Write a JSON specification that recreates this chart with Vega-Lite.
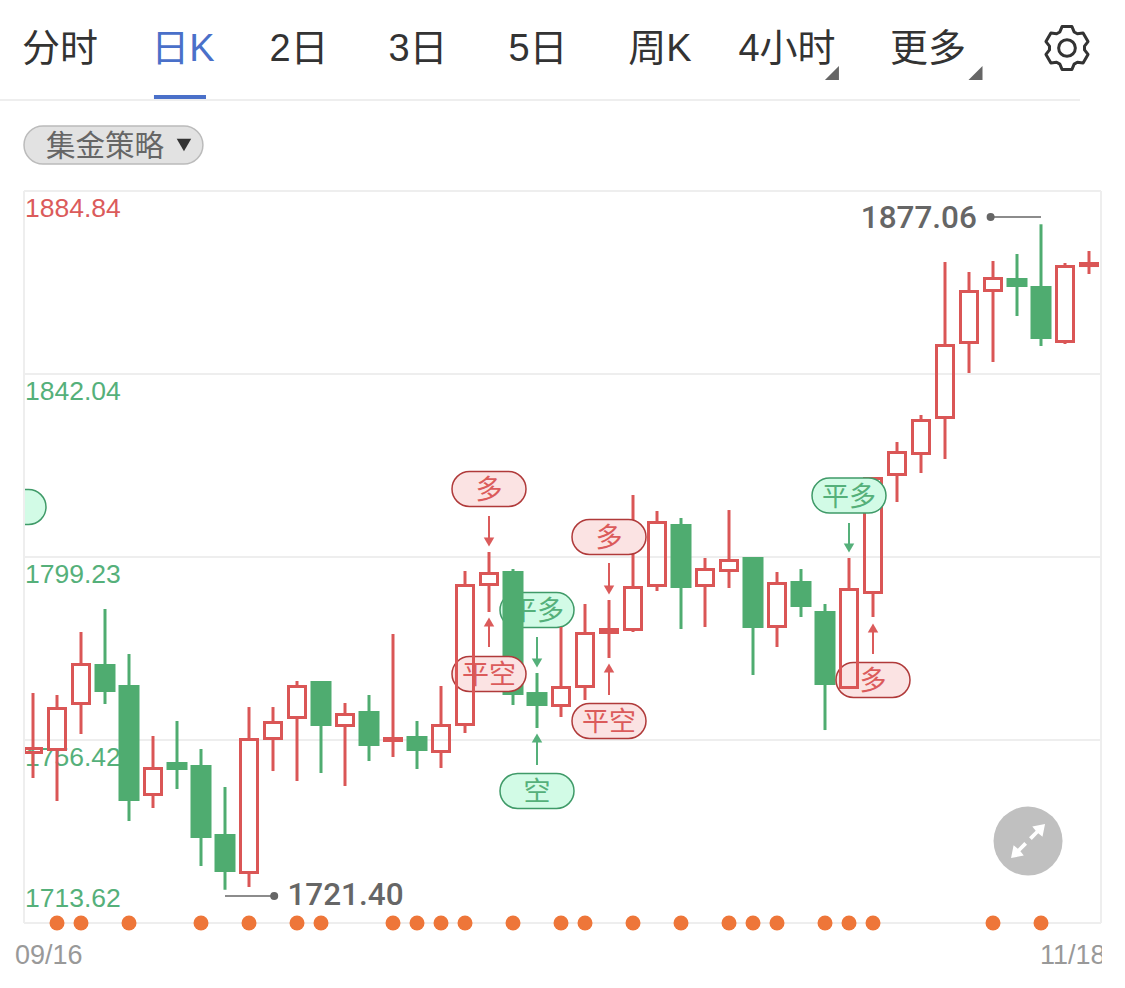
{
  "$schema": "https://vega.github.io/schema/vega-lite/v6.json",
  "description": "Gold daily K-line chart with trade signals, 09/16 to 11/18",
  "width": 1125,
  "height": 988,
  "padding": 0,
  "autosize": {"type": "none"},
  "background": "white",
  "datasets": {
    "candles": [
      {"i":0,"open":1753.50,"close":1754.44,"high":1767.42,"low":1747.54},
      {"i":1,"open":1754.20,"close":1763.79,"high":1766.95,"low":1742.16},
      {"i":2,"open":1764.96,"close":1774.09,"high":1781.69,"low":1757.83},
      {"i":3,"open":1774.20,"close":1767.65,"high":1787.07,"low":1764.85},
      {"i":4,"open":1769.29,"close":1742.16,"high":1776.54,"low":1737.48},
      {"i":5,"open":1743.68,"close":1749.76,"high":1757.36,"low":1740.52},
      {"i":6,"open":1751.28,"close":1749.41,"high":1760.87,"low":1744.96},
      {"i":7,"open":1750.58,"close":1733.50,"high":1754.32,"low":1726.95},
      {"i":8,"open":1734.44,"close":1725.55,"high":1745.43,"low":1721.40},
      {"i":9,"open":1725.43,"close":1756.54,"high":1764.14,"low":1722.04},
      {"i":10,"open":1756.78,"close":1760.52,"high":1764.14,"low":1749.17},
      {"i":11,"open":1761.69,"close":1768.94,"high":1770.23,"low":1746.84},
      {"i":12,"open":1770.23,"close":1759.70,"high":1770.23,"low":1748.71},
      {"i":13,"open":1759.82,"close":1762.39,"high":1765.08,"low":1745.67},
      {"i":14,"open":1763.21,"close":1755.02,"high":1766.95,"low":1751.51},
      {"i":15,"open":1756.31,"close":1756.78,"high":1781.22,"low":1752.45},
      {"i":16,"open":1757.36,"close":1753.85,"high":1760.87,"low":1749.64},
      {"i":17,"open":1753.73,"close":1759.82,"high":1769.06,"low":1749.88},
      {"i":18,"open":1760.05,"close":1792.57,"high":1795.96,"low":1758.06},
      {"i":19,"open":1792.80,"close":1795.37,"high":1800.40,"low":1786.37},
      {"i":20,"open":1795.96,"close":1766.95,"high":1796.42,"low":1764.61},
      {"i":21,"open":1767.65,"close":1764.38,"high":1772.10,"low":1759.23},
      {"i":22,"open":1764.49,"close":1768.71,"high":1782.86,"low":1761.81},
      {"i":23,"open":1768.94,"close":1781.34,"high":1788.24,"low":1765.78},
      {"i":24,"open":1781.57,"close":1782.27,"high":1789.17,"low":1775.61},
      {"i":25,"open":1782.27,"close":1792.10,"high":1813.73,"low":1781.69},
      {"i":26,"open":1792.56,"close":1807.30,"high":1809.99,"low":1791.28},
      {"i":27,"open":1806.95,"close":1791.98,"high":1808.35,"low":1782.39},
      {"i":28,"open":1792.56,"close":1796.31,"high":1799.00,"low":1782.86},
      {"i":29,"open":1796.07,"close":1798.41,"high":1810.22,"low":1791.98},
      {"i":30,"open":1799.23,"close":1782.62,"high":1799.23,"low":1771.63},
      {"i":31,"open":1782.97,"close":1793.03,"high":1795.72,"low":1778.18},
      {"i":32,"open":1793.62,"close":1787.54,"high":1796.42,"low":1785.20},
      {"i":33,"open":1786.60,"close":1769.29,"high":1788.24,"low":1758.76},
      {"i":34,"open":1768.70,"close":1791.63,"high":1799.00,"low":1768.35},
      {"i":35,"open":1790.93,"close":1817.59,"high":1817.94,"low":1785.20},
      {"i":36,"open":1818.53,"close":1823.68,"high":1826.13,"low":1812.10},
      {"i":37,"open":1823.44,"close":1831.16,"high":1832.45,"low":1818.88},
      {"i":38,"open":1831.86,"close":1848.70,"high":1868.23,"low":1822.15},
      {"i":39,"open":1849.40,"close":1861.33,"high":1865.90,"low":1842.27},
      {"i":40,"open":1861.57,"close":1864.38,"high":1868.47,"low":1844.84},
      {"i":41,"open":1864.49,"close":1862.39,"high":1870.11,"low":1855.60},
      {"i":42,"open":1862.62,"close":1850.22,"high":1877.06,"low":1848.59},
      {"i":43,"open":1849.64,"close":1867.18,"high":1868.00,"low":1849.05},
      {"i":44,"open":1867.41,"close":1867.88,"high":1870.81,"low":1865.43}
    ],
    "levels": [
      {"price":1884.84,"label":"1884.84","side":"red"},
      {"price":1842.04,"label":"1842.04","side":"green"},
      {"price":1799.23,"label":"1799.23","side":"green"},
      {"price":1756.42,"label":"1756.42","side":"green"},
      {"price":1713.62,"label":"1713.62","side":"green"}
    ],
    "signals": [
      {"i":21,"price":1786.83,"label":"平多","side":"green","tier":0},
      {"i":-1,"price":1810.93,"label":"","side":"green","tier":0},
      {"i":19,"price":1771.86,"label":"平空","side":"red","tier":1},
      {"i":35,"price":1770.46,"label":"多","side":"red","tier":1},
      {"i":19,"price":1815.14,"label":"多","side":"red","tier":2},
      {"i":21,"price":1744.50,"label":"空","side":"green","tier":2},
      {"i":24,"price":1803.91,"label":"多","side":"red","tier":2},
      {"i":24,"price":1760.87,"label":"平空","side":"red","tier":2},
      {"i":34,"price":1813.61,"label":"平多","side":"green","tier":2}
    ],
    "arrows": [
      {"i":19,"tail":1808.82,"head":1802.74,"dir":"down","side":"red"},
      {"i":19,"tail":1778.18,"head":1784.03,"dir":"up","side":"red"},
      {"i":21,"tail":1780.52,"head":1774.44,"dir":"down","side":"green"},
      {"i":21,"tail":1750.58,"head":1756.89,"dir":"up","side":"green"},
      {"i":24,"tail":1797.83,"head":1791.51,"dir":"down","side":"red"},
      {"i":24,"tail":1766.95,"head":1773.27,"dir":"up","side":"red"},
      {"i":34,"tail":1807.18,"head":1801.34,"dir":"down","side":"green"},
      {"i":35,"tail":1776.54,"head":1782.62,"dir":"up","side":"red"}
    ],
    "events": [
      {"i":1},{"i":2},{"i":4},{"i":7},{"i":9},{"i":11},{"i":12},{"i":15},
      {"i":16},{"i":17},{"i":18},{"i":20},{"i":22},{"i":23},{"i":25},{"i":27},
      {"i":29},{"i":30},{"i":31},{"i":33},{"i":34},{"i":35},{"i":40},{"i":42}
    ]
  },
  "layer": [
    {
      "data": {"values": [{}]},
      "mark": {"type": "rule", "color": "#eeeeee", "strokeWidth": 2},
      "encoding": {
        "x": {"datum": -1.375, "type": "quantitative", "scale": {"domain": [-1.375, 45.5], "nice": false, "zero": false}},
        "x2": {"datum": 43.625},
        "y": {"datum": 1906.13, "type": "quantitative", "scale": {"domain": [1698.42, 1929.52], "nice": false, "zero": false}}
      }
    },
    {
      "data": {"values": [{}]},
      "mark": {"type": "rule", "color": "#4a70c9", "strokeWidth": 4},
      "encoding": {
        "x": {"datum": 5.04, "type": "quantitative"},
        "x2": {"datum": 7.208},
        "y": {"datum": 1906.83, "type": "quantitative"}
      }
    },
    {"data": {"values": [{"label": "分时"}]}, "mark": {"type": "text", "style": "tab", "color": "#333333"}, "encoding": {"text": {"field": "label"}, "x": {"datum": 1.125, "type": "quantitative"}, "y": {"datum": 1917.8, "type": "quantitative"}}},
    {"data": {"values": [{"label": "日K"}]}, "mark": {"type": "text", "style": "tab", "color": "#4a70c9"}, "encoding": {"text": {"field": "label"}, "x": {"datum": 6.25, "type": "quantitative"}, "y": {"datum": 1917.8, "type": "quantitative"}}},
    {"data": {"values": [{"label": "2日"}]}, "mark": {"type": "text", "style": "tab", "color": "#333333"}, "encoding": {"text": {"field": "label"}, "x": {"datum": 11.083, "type": "quantitative"}, "y": {"datum": 1917.8, "type": "quantitative"}}},
    {"data": {"values": [{"label": "3日"}]}, "mark": {"type": "text", "style": "tab", "color": "#333333"}, "encoding": {"text": {"field": "label"}, "x": {"datum": 16.042, "type": "quantitative"}, "y": {"datum": 1917.8, "type": "quantitative"}}},
    {"data": {"values": [{"label": "5日"}]}, "mark": {"type": "text", "style": "tab", "color": "#333333"}, "encoding": {"text": {"field": "label"}, "x": {"datum": 21.04, "type": "quantitative"}, "y": {"datum": 1917.8, "type": "quantitative"}}},
    {"data": {"values": [{"label": "周K"}]}, "mark": {"type": "text", "style": "tab", "color": "#333333"}, "encoding": {"text": {"field": "label"}, "x": {"datum": 26.125, "type": "quantitative"}, "y": {"datum": 1917.8, "type": "quantitative"}}},
    {"data": {"values": [{"label": "4小时"}]}, "mark": {"type": "text", "style": "tab", "color": "#333333"}, "encoding": {"text": {"field": "label"}, "x": {"datum": 31.417, "type": "quantitative"}, "y": {"datum": 1917.8, "type": "quantitative"}}},
    {"data": {"values": [{"label": "更多"}]}, "mark": {"type": "text", "style": "tab", "color": "#333333"}, "encoding": {"text": {"field": "label"}, "x": {"datum": 37.29, "type": "quantitative"}, "y": {"datum": 1917.8, "type": "quantitative"}}},
    {
      "data": {"values": [{}]},
      "mark": {"type": "point", "filled": true, "fill": "#666666", "opacity": 1, "size": 196, "shape": "M1 -1 L1 1 L-1 1 Z"},
      "encoding": {"x": {"datum": 33.29, "type": "quantitative"}, "y": {"datum": 1912.44, "type": "quantitative"}}
    },
    {
      "data": {"values": [{}]},
      "mark": {"type": "point", "filled": true, "fill": "#666666", "opacity": 1, "size": 196, "shape": "M1 -1 L1 1 L-1 1 Z"},
      "encoding": {"x": {"datum": 39.27, "type": "quantitative"}, "y": {"datum": 1912.44, "type": "quantitative"}}
    },
    {
      "data": {"values": [{}]},
      "mark": {
        "type": "point", "filled": false, "stroke": "#333333", "strokeWidth": 3, "opacity": 1, "size": 1936, "strokeJoin": "round",
        "shape": "M-.325 -.731 L-.225 -.974 L.225 -.974 L.325 -.731 L.471 -.647 L.731 -.682 L.956 -.292 L.796 -.085 L.796 .085 L.956 .292 L.731 .682 L.471 .647 L.325 .731 L.225 .974 L-.225 .974 L-.325 .731 L-.471 .647 L-.731 .682 L-.956 .292 L-.796 .085 L-.796 -.085 L-.956 -.292 L-.731 -.682 L-.471 -.647 Z M.38 0 A.38 .38 0 1 0 -.38 0 A.38 .38 0 1 0 .38 0 Z"
      },
      "encoding": {"x": {"datum": 43.083, "type": "quantitative"}, "y": {"datum": 1918.29, "type": "quantitative"}}
    },
    {
      "data": {"values": [{}]},
      "mark": {"type": "rect", "fill": "#e2e2e2", "stroke": "#bbbbbb", "strokeWidth": 1.5, "cornerRadius": 19},
      "encoding": {
        "x": {"datum": -0.375, "type": "quantitative"},
        "x2": {"datum": 7.08},
        "y": {"datum": 1900.05, "type": "quantitative"},
        "y2": {"datum": 1891.16}
      }
    },
    {
      "data": {"values": [{"label": "集金策略"}]},
      "mark": {"type": "text", "fontSize": 29.5, "color": "#666666", "font": "Noto Sans CJK SC"},
      "encoding": {"text": {"field": "label"}, "x": {"datum": 3.0, "type": "quantitative"}, "y": {"datum": 1895.1, "type": "quantitative"}}
    },
    {
      "data": {"values": [{}]},
      "mark": {"type": "point", "shape": "triangle-down", "filled": true, "fill": "#333333", "opacity": 1, "size": 210},
      "encoding": {"x": {"datum": 6.29, "type": "quantitative"}, "y": {"datum": 1895.6, "type": "quantitative"}}
    },
    {
      "data": {"name": "levels"},
      "mark": {"type": "rule", "color": "#eeeeee", "strokeWidth": 2},
      "encoding": {
        "x": {"datum": -0.375, "type": "quantitative"},
        "x2": {"datum": 44.5},
        "y": {"field": "price", "type": "quantitative"}
      }
    },
    {
      "data": {"name": "levels"},
      "transform": [{"filter": "datum.price > 1720"}],
      "mark": {"type": "text", "style": "level", "dy": 18},
      "encoding": {
        "text": {"field": "label"},
        "x": {"datum": -0.375, "type": "quantitative"},
        "y": {"field": "price", "type": "quantitative"},
        "color": {"field": "side", "scale": {"domain": ["red", "green"], "range": ["#db5b5b", "#55b07a"]}}
      }
    },
    {
      "data": {"name": "levels"},
      "transform": [{"filter": "datum.price < 1720"}],
      "mark": {"type": "text", "style": "level", "dy": -24},
      "encoding": {
        "text": {"field": "label"},
        "x": {"datum": -0.375, "type": "quantitative"},
        "y": {"field": "price", "type": "quantitative"},
        "color": {"field": "side"}
      }
    },
    {
      "data": {"name": "signals"},
      "transform": [{"filter": "datum.tier == 0"}],
      "encoding": {
        "x": {"field": "i", "type": "quantitative"},
        "y": {"field": "price", "type": "quantitative"}
      },
      "layer": [
        {
          "mark": {"type": "rect", "width": 74, "height": 35, "cornerRadius": 17.5, "strokeWidth": 1.5},
          "encoding": {
            "fill": {"field": "side", "scale": {"domain": ["red", "green"], "range": ["#fbe3e3", "#d2fbe6"]}},
            "stroke": {"field": "side", "scale": {"domain": ["red", "green"], "range": ["#b03a3a", "#3f9a68"]}}
          }
        },
        {
          "mark": {"type": "text", "style": "pill"},
          "encoding": {"text": {"field": "label"}, "color": {"field": "side"}}
        }
      ]
    },
    {
      "data": {"name": "candles"},
      "transform": [{"filter": "datum.close < datum.open"}],
      "encoding": {"x": {"field": "i", "type": "quantitative"}},
      "layer": [
        {
          "mark": {"type": "rule", "color": "#4fac70", "strokeWidth": 3},
          "encoding": {"y": {"field": "low", "type": "quantitative"}, "y2": {"field": "high"}}
        },
        {
          "mark": {"type": "rect", "fill": "#4fac70", "width": 21},
          "encoding": {"y": {"field": "open", "type": "quantitative"}, "y2": {"field": "close"}}
        }
      ]
    },
    {
      "data": {"name": "signals"},
      "transform": [{"filter": "datum.tier == 1"}],
      "encoding": {
        "x": {"field": "i", "type": "quantitative"},
        "y": {"field": "price", "type": "quantitative"}
      },
      "layer": [
        {
          "mark": {"type": "rect", "width": 74, "height": 35, "cornerRadius": 17.5, "strokeWidth": 1.5},
          "encoding": {"fill": {"field": "side"}, "stroke": {"field": "side"}}
        },
        {
          "mark": {"type": "text", "style": "pill"},
          "encoding": {"text": {"field": "label"}, "color": {"field": "side"}}
        }
      ]
    },
    {
      "data": {"name": "candles"},
      "transform": [{"filter": "datum.close >= datum.open"}],
      "encoding": {"x": {"field": "i", "type": "quantitative"}},
      "layer": [
        {
          "mark": {"type": "rule", "color": "#da5656", "strokeWidth": 3},
          "encoding": {"y": {"field": "close", "type": "quantitative"}, "y2": {"field": "high"}}
        },
        {
          "mark": {"type": "rule", "color": "#da5656", "strokeWidth": 3},
          "encoding": {"y": {"field": "open", "type": "quantitative"}, "y2": {"field": "low"}}
        },
        {
          "mark": {"type": "rect", "fill": "transparent", "stroke": "#da5656", "strokeWidth": 3, "width": 17},
          "encoding": {"y": {"field": "open", "type": "quantitative"}, "y2": {"field": "close"}}
        }
      ]
    },
    {
      "data": {"name": "signals"},
      "transform": [{"filter": "datum.tier == 2"}],
      "encoding": {
        "x": {"field": "i", "type": "quantitative"},
        "y": {"field": "price", "type": "quantitative"}
      },
      "layer": [
        {
          "mark": {"type": "rect", "width": 74, "height": 35, "cornerRadius": 17.5, "strokeWidth": 1.5},
          "encoding": {"fill": {"field": "side"}, "stroke": {"field": "side"}}
        },
        {
          "mark": {"type": "text", "style": "pill"},
          "encoding": {"text": {"field": "label"}, "color": {"field": "side"}}
        }
      ]
    },
    {
      "data": {"name": "arrows"},
      "encoding": {"x": {"field": "i", "type": "quantitative"}},
      "layer": [
        {
          "mark": {"type": "rule", "strokeWidth": 2},
          "encoding": {"y": {"field": "tail", "type": "quantitative"}, "y2": {"field": "head"}, "color": {"field": "side"}}
        },
        {
          "mark": {"type": "point", "filled": true, "opacity": 1, "size": 110},
          "encoding": {
            "y": {"field": "head", "type": "quantitative"},
            "color": {"field": "side"},
            "shape": {"field": "dir", "scale": {"domain": ["down", "up"], "range": ["triangle-down", "triangle-up"]}}
          }
        }
      ]
    },
    {
      "data": {"values": [{}]},
      "mark": {"type": "rect", "fill": "white"},
      "encoding": {
        "x": {"datum": -1.375, "type": "quantitative"},
        "x2": {"datum": -0.375},
        "y": {"datum": 1820, "type": "quantitative"},
        "y2": {"datum": 1800}
      }
    },
    {
      "data": {"values": [{}]},
      "mark": {"type": "rule", "color": "#eeeeee", "strokeWidth": 2},
      "encoding": {
        "x": {"datum": -0.375, "type": "quantitative"},
        "y": {"datum": 1884.84, "type": "quantitative"},
        "y2": {"datum": 1713.62}
      }
    },
    {
      "data": {"values": [{}]},
      "mark": {"type": "rule", "color": "#eeeeee", "strokeWidth": 2},
      "encoding": {
        "x": {"datum": 44.5, "type": "quantitative"},
        "y": {"datum": 1884.84, "type": "quantitative"},
        "y2": {"datum": 1713.62}
      }
    },
    {
      "data": {"name": "events"},
      "mark": {"type": "circle", "fill": "#ee7639", "opacity": 1, "size": 225},
      "encoding": {
        "x": {"field": "i", "type": "quantitative"},
        "y": {"datum": 1713.62, "type": "quantitative"}
      }
    },
    {
      "data": {"values": [{}]},
      "mark": {"type": "rule", "color": "#666666", "strokeWidth": 1.5},
      "encoding": {
        "x": {"datum": 42, "type": "quantitative"},
        "x2": {"datum": 39.96},
        "y": {"datum": 1878.76, "type": "quantitative"}
      }
    },
    {
      "data": {"values": [{}]},
      "mark": {"type": "circle", "fill": "#666666", "opacity": 1, "size": 64},
      "encoding": {"x": {"datum": 39.9, "type": "quantitative"}, "y": {"datum": 1878.76, "type": "quantitative"}}
    },
    {
      "data": {"values": [{"label": "1877.06"}]},
      "mark": {"type": "text", "style": "extreme", "align": "right", "color": "#666666"},
      "encoding": {"text": {"field": "label"}, "x": {"datum": 39.33, "type": "quantitative"}, "y": {"datum": 1878.3, "type": "quantitative"}}
    },
    {
      "data": {"values": [{}]},
      "mark": {"type": "rule", "color": "#666666", "strokeWidth": 1.5},
      "encoding": {
        "x": {"datum": 8, "type": "quantitative"},
        "x2": {"datum": 10.05},
        "y": {"datum": 1719.94, "type": "quantitative"}
      }
    },
    {
      "data": {"values": [{}]},
      "mark": {"type": "circle", "fill": "#666666", "opacity": 1, "size": 64},
      "encoding": {"x": {"datum": 10.05, "type": "quantitative"}, "y": {"datum": 1719.94, "type": "quantitative"}}
    },
    {
      "data": {"values": [{"label": "1721.40"}]},
      "mark": {"type": "text", "style": "extreme", "align": "left", "color": "#666666"},
      "encoding": {"text": {"field": "label"}, "x": {"datum": 10.6, "type": "quantitative"}, "y": {"datum": 1719.94, "type": "quantitative"}}
    },
    {
      "data": {"values": [{}]},
      "mark": {"type": "circle", "fill": "#c0c0c0", "opacity": 1, "size": 4761},
      "encoding": {"x": {"datum": 41.46, "type": "quantitative"}, "y": {"datum": 1732.8, "type": "quantitative"}}
    },
    {
      "data": {"values": [{}]},
      "mark": {
        "type": "point", "filled": true, "fill": "white", "opacity": 1, "size": 1156,
        "shape": "M1 -1 L.85 -.25 L.6 -.45 L.22 -.06 L.06 -.22 L.45 -.6 L.25 -.85 Z M-1 1 L-.85 .25 L-.6 .45 L-.22 .06 L-.06 .22 L-.45 .6 L-.25 .85 Z"
      },
      "encoding": {"x": {"datum": 41.46, "type": "quantitative"}, "y": {"datum": 1732.8, "type": "quantitative"}}
    },
    {
      "data": {"values": [{"label": "09/16"}]},
      "mark": {"type": "text", "style": "date", "color": "#999999"},
      "encoding": {"text": {"field": "label"}, "x": {"datum": -0.75, "type": "quantitative"}, "y": {"datum": 1705.9, "type": "quantitative"}}
    },
    {
      "data": {"values": [{"label": "11/18"}]},
      "mark": {"type": "text", "style": "date", "color": "#999999"},
      "encoding": {"text": {"field": "label"}, "x": {"datum": 41.96, "type": "quantitative"}, "y": {"datum": 1705.9, "type": "quantitative"}}
    },
    {
      "data": {"values": [{}]},
      "mark": {"type": "rect", "fill": "white"},
      "encoding": {
        "x": {"datum": 44.54, "type": "quantitative"},
        "x2": {"datum": 45.5},
        "y": {"datum": 1712, "type": "quantitative"},
        "y2": {"datum": 1700}
      }
    }
  ],
  "config": {
    "view": {"stroke": null},
    "axis": {"disable": true},
    "legend": {"disable": true},
    "style": {
      "tab": {"font": "Liberation Sans, Noto Sans CJK SC", "fontSize": 38, "align": "center", "baseline": "middle"},
      "level": {"font": "Liberation Sans", "fontSize": 26.5, "align": "left", "baseline": "middle", "dx": 1},
      "pill": {"font": "Noto Sans CJK SC", "fontSize": 27, "align": "center", "baseline": "middle", "dy": 2},
      "extreme": {"font": "Roboto", "fontSize": 31.5, "fontWeight": 500, "baseline": "middle"},
      "date": {"font": "Liberation Sans", "fontSize": 27, "align": "left", "baseline": "middle"}
    }
  }
}
